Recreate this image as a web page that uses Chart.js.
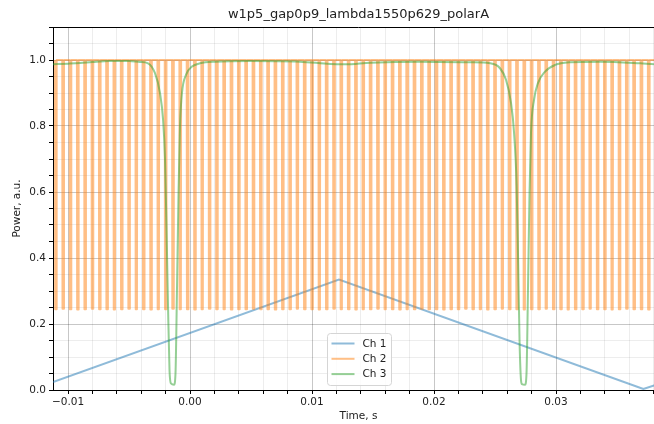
<!DOCTYPE html>
<html><head><meta charset="utf-8">
<script src="https://cdn.jsdelivr.net/npm/chart.js@4.4.1/dist/chart.umd.min.js"></script>
<style>
html,body{margin:0;padding:0;overflow:hidden;background:#fff;width:654px;height:424px}
#wrap{width:664px;height:424px}
</style></head>
<body><div id="wrap"><canvas id="c" width="664" height="424"></canvas></div>
<script>
// ---- data ----
const titleText = 'w1p5_gap0p9_lambda1550p629_polarA';
const xAxisLabel = 'Time, s';
const yAxisLabel = 'Power, a.u.';
const seriesNames = ['Ch 1', 'Ch 2', 'Ch 3'];
const xTickValues = [-0.01, 0.00, 0.01, 0.02, 0.03];
const xTickLabels = ['\u22120.01', '0.00', '0.01', '0.02', '0.03'];
const yTickValues = [0.0, 0.2, 0.4, 0.6, 0.8, 1.0];
const yTickLabels = ['0.0', '0.2', '0.4', '0.6', '0.8', '1.0'];

// Ch 1: triangular ramp (vertices)
const ch1Times = [-0.01123, 0.01221, 0.03716, 0.03885];
const ch1Values = [0.024, 0.335, 0.003, 0.024];

// Ch 2: fringe dips (time of each dip and its minimum)
const ch2DipTimes = [
 -0.0110,-0.0104,-0.0098,-0.0092,-0.0086,-0.0080,-0.0074,-0.0068,-0.0062,-0.0056,
 -0.0050,-0.0044,-0.0038,-0.0032,-0.0026,-0.0020,-0.0014,-0.0008,-0.0002,0.0004,
 0.0010,0.0016,0.0022,0.0028,0.0034,0.0040,0.0046,0.0052,0.0058,0.0064,
 0.0070,0.0076,0.0082,0.0088,0.0094,0.0100,0.0106,0.0112,0.0118,0.0124,
 0.0130,0.0136,0.0142,0.0148,0.0154,0.0160,0.0166,0.0172,0.0178,0.0184,
 0.0190,0.0196,0.0202,0.0208,0.0214,0.0220,0.0226,0.0232,0.0238,0.0244,
 0.0250,0.0256,0.0262,0.0268,0.0274,0.0280,0.0286,0.0292,0.0298,0.0304,
 0.0310,0.0316,0.0322,0.0328,0.0334,0.0340,0.0346,0.0352,0.0358,0.0364,
 0.0370,0.0376,0.0382,0.0388];
const ch2DipMin = [
 0.245,0.246,0.245,0.244,0.245,0.246,0.245,0.245,0.244,0.245,
 0.246,0.245,0.245,0.244,0.245,0.245,0.246,0.245,0.245,0.244,
 0.245,0.246,0.245,0.245,0.244,0.245,0.245,0.246,0.245,0.245,
 0.244,0.245,0.245,0.246,0.245,0.245,0.244,0.245,0.246,0.245,
 0.245,0.244,0.245,0.245,0.246,0.245,0.245,0.244,0.245,0.245,
 0.246,0.245,0.245,0.244,0.245,0.245,0.246,0.245,0.245,0.244,
 0.245,0.246,0.245,0.245,0.244,0.245,0.245,0.246,0.245,0.245,
 0.244,0.245,0.245,0.246,0.245,0.245,0.244,0.245,0.246,0.245,
 0.245,0.244,0.245,0.245];
const ch2Top = 1.0;

// Ch 3: transmission with two resonance dips
const ch3Times = [
 -0.01123,-0.0100,-0.0090,-0.0080,-0.0066,-0.0050,-0.0041,-0.00344,-0.00287,-0.00246,
 -0.00221,-0.00205,-0.00193,-0.00180,-0.00168,-0.00156,-0.00131,-0.00119,-0.00107,-0.00094,
 -0.00082,-0.00066,-0.00033,0.00016,0.00082,0.00205,0.0049,0.0090,0.0115,0.0127,
 0.0148,0.0189,0.0230,0.02459,0.02541,0.0259,0.02631,0.02656,0.02677,0.02689,
 0.02701,0.02713,0.02721,0.02746,0.02758,0.0277,0.02783,0.02795,0.0282,0.02852,
 0.0291,0.02992,0.03115,0.03361,0.03689,0.03885];
const ch3Values = [
 0.987,0.989,0.991,0.994,0.997,0.997,0.994,0.990,0.960,0.900,
 0.820,0.700,0.500,0.250,0.060,0.020,0.016,0.050,0.300,0.600,
 0.800,0.900,0.955,0.980,0.990,0.995,0.997,0.995,0.988,0.987,
 0.992,0.995,0.993,0.990,0.975,0.940,0.870,0.780,0.620,0.400,
 0.150,0.030,0.018,0.016,0.050,0.300,0.600,0.780,0.880,0.930,
 0.965,0.985,0.993,0.995,0.990,0.985];

const xMin = -0.01123, xMax = 0.03885, yMin = 0, yMax = 1.1;

// ---- build tables ----
const ch1Data = ch1Times.map((t, i) => ({x: t, y: ch1Values[i]}));
const ch2Data = [];
ch2DipTimes.forEach((t, i) => {
  ch2Data.push({x: t - 0.00007, y: ch2Top}, {x: t - 0.00005, y: ch2DipMin[i]},
               {x: t + 0.00005, y: ch2DipMin[i]}, {x: t + 0.00007, y: ch2Top});
});
const ch3Data = ch3Times.map((t, i) => ({x: t, y: ch3Values[i]}));

const colors = ['rgba(31,119,180,0.5)', 'rgba(255,127,14,0.5)', 'rgba(44,160,44,0.5)'];
const FONT = 'DejaVu Sans';

function findLabel(v, vals, labs) {
  for (let i = 0; i < vals.length; i++) if (Math.abs(v - vals[i]) < 1e-9) return labs[i];
  return '';
}
function isMajor(v, vals) { return vals.some(m => Math.abs(v - m) < 1e-9); }

const decorPlugin = {
  id: 'decor',
  afterDraw(chart) {
    const {ctx, chartArea: a} = chart;
    ctx.save();
    // top spine
    ctx.strokeStyle = '#000'; ctx.lineWidth = 1;
    ctx.beginPath(); ctx.moveTo(a.left, Math.round(a.top) + 0.5); ctx.lineTo(a.right, Math.round(a.top) + 0.5); ctx.stroke();
    // title
    ctx.fillStyle = '#222'; ctx.font = '13px "' + FONT + '"';
    ctx.textAlign = 'center'; ctx.textBaseline = 'middle';
    ctx.fillText(titleText, (a.left + a.right) / 2, 15);
    // legend
    const cx = (a.left + a.right) / 2;
    const bw = 64, bh = 52;
    const bx = Math.round(cx - 31.5) + 0.5, by = Math.round(a.bottom - 5 - bh) + 0.5;
    ctx.fillStyle = 'rgba(255,255,255,0.8)';
    ctx.strokeStyle = '#d5d5d5'; ctx.lineWidth = 1;
    const r = 3;
    ctx.beginPath();
    ctx.moveTo(bx + r, by); ctx.lineTo(bx + bw - r, by); ctx.quadraticCurveTo(bx + bw, by, bx + bw, by + r);
    ctx.lineTo(bx + bw, by + bh - r); ctx.quadraticCurveTo(bx + bw, by + bh, bx + bw - r, by + bh);
    ctx.lineTo(bx + r, by + bh); ctx.quadraticCurveTo(bx, by + bh, bx, by + bh - r);
    ctx.lineTo(bx, by + r); ctx.quadraticCurveTo(bx, by, bx + r, by);
    ctx.closePath(); ctx.fill(); ctx.stroke();
    ctx.font = '10.5px "' + FONT + '"'; ctx.textAlign = 'left';
    seriesNames.forEach((name, i) => {
      const y = by + 10 + i * 15.3;
      ctx.strokeStyle = colors[i]; ctx.lineWidth = 2;
      ctx.beginPath(); ctx.moveTo(bx + 4, y); ctx.lineTo(bx + 27, y); ctx.stroke();
      ctx.fillStyle = '#222';
      ctx.fillText(name, bx + 35, y + 0.5);
    });
    ctx.restore();
  }
};

new Chart(document.getElementById('c'), {
  type: 'line',
  data: {
    datasets: [
      {label: seriesNames[0], data: ch1Data, borderColor: colors[0], borderWidth: 2, pointRadius: 0, order: 2, tension: 0},
      {label: seriesNames[1], data: ch2Data, borderColor: colors[1], borderWidth: 2, pointRadius: 0, order: 1, tension: 0, borderJoinStyle: 'round'},
      {label: seriesNames[2], data: ch3Data, borderColor: colors[2], borderWidth: 2, pointRadius: 0, order: 0, cubicInterpolationMode: 'monotone'}
    ]
  },
  options: {
    responsive: false,
    animation: false,
    events: [],
    layout: {padding: {top: 27, right: 0, left: 0, bottom: 0}},
    plugins: {legend: {display: false}, title: {display: false}, tooltip: {enabled: false}},
    scales: {
      x: {
        type: 'linear', min: xMin, max: xMax,
        afterFit: s => { s.height = 34; },
        ticks: {
          stepSize: 0.002, includeBounds: false, autoSkip: false, maxRotation: 0,
          padding: 2, color: '#222', font: {family: FONT, size: 10.5},
          callback: v => findLabel(v, xTickValues, xTickLabels)
        },
        grid: {
          color: c => isMajor(c.tick.value, xTickValues) ? 'rgba(0,0,0,0.22)' : 'rgba(0,0,0,0.07)',
          lineWidth: 1, tickLength: 4, tickColor: '#000', tickWidth: 1
        },
        border: {color: '#000', width: 1},
        title: {display: true, text: xAxisLabel, color: '#222', font: {family: FONT, size: 10.5}, padding: {top: 0, bottom: 1}}
      },
      y: {
        type: 'linear', min: yMin, max: yMax,
        afterFit: s => { s.width = 53; },
        ticks: {
          stepSize: 0.05, includeBounds: false, autoSkip: false,
          padding: 3, color: '#222', font: {family: FONT, size: 10.5},
          callback: v => findLabel(v, yTickValues, yTickLabels)
        },
        grid: {
          color: c => isMajor(c.tick.value, yTickValues) ? 'rgba(0,0,0,0.22)' : 'rgba(0,0,0,0.07)',
          lineWidth: 1, tickLength: 4, tickColor: '#000', tickWidth: 1
        },
        border: {color: '#000', width: 1},
        title: {display: true, text: yAxisLabel, color: '#222', font: {family: FONT, size: 10.5}, padding: {top: 11, bottom: 0}}
      }
    }
  },
  plugins: [decorPlugin]
});
</script>
</body></html>
